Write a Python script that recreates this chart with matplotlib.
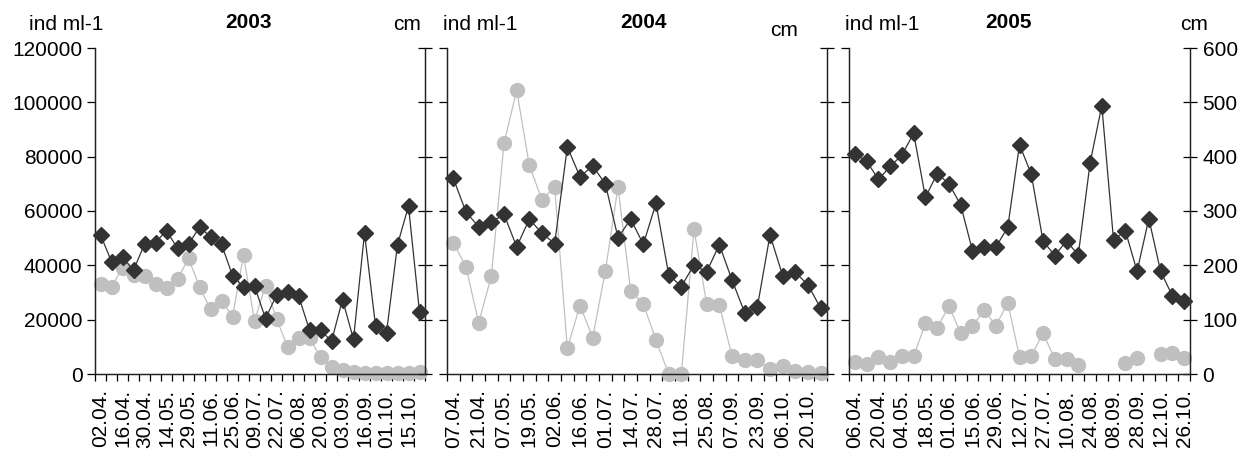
import matplotlib
matplotlib.use("Agg")
import matplotlib.pyplot as plt
import numpy as np

plt.rcParams["font.family"] = ["Liberation Sans", "DejaVu Sans"]

# --- data -------------------------------------------------------------
DATES_2003 = ["02.04.", "16.04.", "30.04.", "14.05.", "29.05.", "11.06.", "25.06.", "09.07.",
              "22.07.", "06.08.", "20.08.", "03.09.", "16.09.", "01.10.", "15.10."]
DATES_2004 = ["07.04.", "21.04.", "07.05.", "19.05.", "02.06.", "16.06.", "01.07.", "14.07.",
              "28.07.", "11.08.", "25.08.", "07.09.", "23.09.", "06.10.", "20.10."]
DATES_2005 = ["06.04.", "20.04.", "04.05.", "18.05.", "01.06.", "15.06.", "29.06.", "12.07.",
              "27.07.", "10.08.", "24.08.", "08.09.", "28.09.", "12.10.", "26.10."]

# abundance, ind ml-1 (grey circles, left axis)
IND_2003 = [33200, 31900, 39200, 36400, 36100, 33200, 31800, 34900, 42600, 32100,
            23800, 27000, 21100, 43700, 19500, 32500, 20400, 10100, 13400, 13100,
            6300, 2600, 1500, 900, 500, 500, 200, 500, 500, 600]
IND_2004 = [48400, 39400, 18900, 36000, 84900, 104400, 76800, 64100, 68800, 9500,
            25200, 13400, 37800, 68900, 30600, 25800, 12500, 0, 0, 53200,
            25900, 25400, 6600, 5200, 5200, 1700, 3100, 1200, 900, 500]
IND_2005 = [4600, 3600, 6400, 4400, 6800, 6600, 18600, 17000, 25000, 15000,
            17800, 23400, 17800, 26200, 6400, 6600, 15000, 5600, 5400, 3400,
            np.nan, np.nan, np.nan, 4200, 6000, np.nan, 7200, 7600, 6000]

# depth, cm (black diamonds, right axis)
CM_2003 = [256, 207, 215, 191, 239, 242, 264, 231, 239, 270,
           253, 239, 181, 160, 162, 102, 145, 151, 144, 81,
           81, 60, 137, 64, 259, 89, 76, 238, 309, 114]
CM_2004 = [360, 298, 271, 279, 294, 234, 285, 259, 240, 418,
           363, 383, 350, 251, 285, 239, 314, 183, 161, 201,
           188, 238, 173, 113, 123, 256, 181, 187, 164, 121]
CM_2005 = [405, 392, 358, 382, 403, 443, 325, 369, 350, 311,
           227, 233, 234, 270, 422, 368, 245, 218, 245, 219,
           388, 494, 246, 264, 189, 286, 189, 144, 134]

YEARS = ["2003", "2004", "2005"]

W, H = 1251, 450
GREY = "#c0c0c0"
DARK = "#333333"
FS = 15


def draw_panel(fig, rect, dates, ind, cm, year, title_x, show_left, show_right, cm_pos):
    left, top, right, bottom = rect
    ax = fig.add_axes([left / W, 1 - bottom / H, (right - left) / W, (bottom - top) / H])
    ax2 = ax.twinx()

    n = len(cm)
    x = np.arange(n)
    ax.plot(x, ind, color=GREY, lw=0.9, marker="o", ms=10, mec=GREY, mfc=GREY,
            clip_on=False, zorder=2)
    ax2.plot(x, cm, color=DARK, lw=0.9, marker="D", ms=8.5, mec=DARK, mfc=DARK,
             clip_on=False, zorder=3)

    ax.set_xlim(-0.5, n - 0.5)
    ax.set_ylim(0, 120000)
    ax2.set_ylim(0, 600)
    ax.set_yticks(np.arange(0, 120001, 20000))
    ax2.set_yticks(np.arange(0, 601, 100))

    # category ticks between points, labels on every second category
    ax.set_xticks(x[::2])
    ax.set_xticklabels(dates, rotation=90, fontsize=FS)
    ax.set_xticks(np.arange(-0.5, n, 1.0), minor=True)
    ax.tick_params(axis="x", which="major", length=0, pad=11)
    ax.tick_params(axis="x", which="minor", length=5, width=0.9, direction="out")

    ax.tick_params(axis="y", length=6, width=0.9, direction="out", labelsize=FS,
                   labelleft=show_left, pad=3)
    ax2.tick_params(axis="y", length=10, width=0.9, direction="inout", labelsize=FS,
                    labelright=show_right, pad=4)

    for a in (ax, ax2):
        a.spines["top"].set_visible(False)
        for s in ("left", "right", "bottom"):
            a.spines[s].set_linewidth(0.9)
            a.spines[s].set_color("#222222")
    ax.set_zorder(ax2.get_zorder() - 1)
    ax.patch.set_visible(True)
    ax2.patch.set_visible(False)

    fig.text((left - 66 if show_left else left - 4) / W, 1 - 25 / H, "ind ml-1",
             fontsize=FS, ha="left", va="center")
    fig.text(title_x / W, 1 - 23 / H, year, fontsize=FS, fontweight="bold",
             ha="center", va="center")
    fig.text(cm_pos[0] / W, 1 - cm_pos[1] / H, "cm", fontsize=FS, ha="right", va="center")


fig = plt.figure(figsize=(W / 100, H / 100), dpi=100)

draw_panel(fig, (95, 48, 425, 374), DATES_2003, IND_2003, CM_2003, YEARS[0],
           248, True, False, (421, 25))
draw_panel(fig, (447, 48, 827, 374), DATES_2004, IND_2004, CM_2004, YEARS[1],
           644, False, False, (798, 30))
draw_panel(fig, (849, 48, 1190, 374), DATES_2005, IND_2005, CM_2005, YEARS[2],
           1008, False, True, (1208, 25))

fig.savefig("out.png", dpi=100)
